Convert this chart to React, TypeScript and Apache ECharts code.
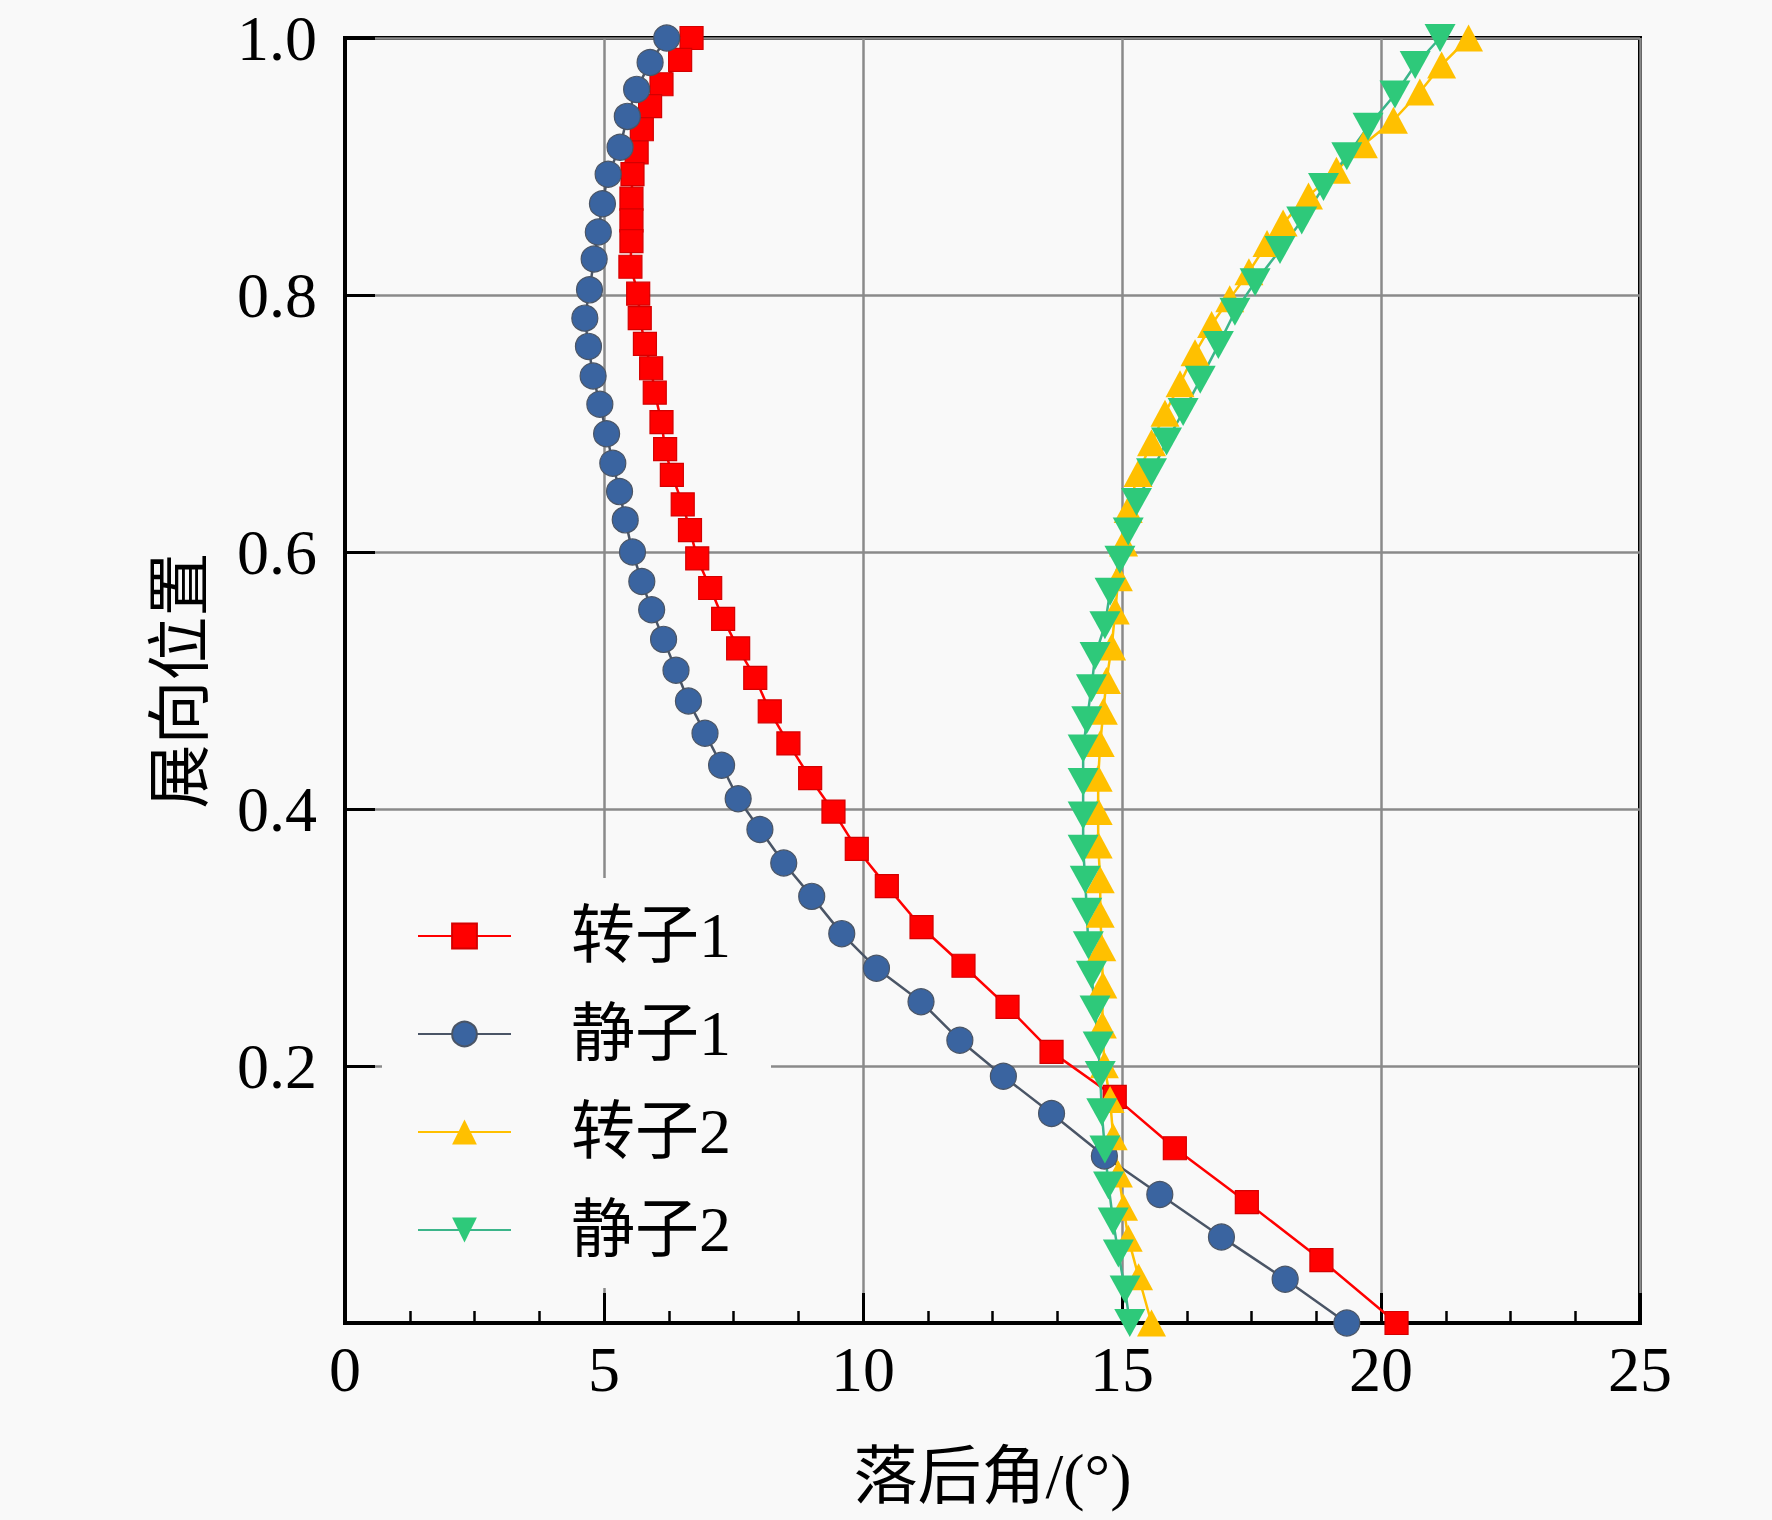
import React, { useEffect, useRef } from "react";
import * as echarts from "echarts";

// ---- Data ----
const seriesNames = ["转子1", "静子1", "转子2", "静子2"];

const xTicks = [0, 5, 10, 15, 20, 25];
const yTicks = [0, 0.2, 0.4, 0.6, 0.8, 1.0];
const yTickLabels = ["", "0.2", "0.4", "0.6", "0.8", "1.0"];

const xAxisTitle = "落后角/(°)";
const yAxisTitle = "展向位置";

// 转子1 (rotor 1)
const rotor1Angle = [6.69, 6.47, 6.11, 5.89, 5.73, 5.63, 5.55, 5.53, 5.53, 5.53, 5.51, 5.66, 5.69, 5.79, 5.91, 5.98, 6.11, 6.18, 6.31, 6.52, 6.66, 6.8, 7.05, 7.3, 7.59, 7.92, 8.2, 8.56, 8.98, 9.43, 9.88, 10.46, 11.13, 11.94, 12.79, 13.64, 14.86, 16.02, 17.41, 18.85, 20.3];
const rotor1Span = [1.0, 0.983, 0.964, 0.947, 0.929, 0.911, 0.894, 0.875, 0.858, 0.842, 0.822, 0.801, 0.782, 0.762, 0.743, 0.724, 0.701, 0.68, 0.66, 0.637, 0.617, 0.595, 0.572, 0.548, 0.525, 0.502, 0.476, 0.451, 0.424, 0.398, 0.369, 0.34, 0.308, 0.278, 0.246, 0.211, 0.176, 0.136, 0.094, 0.049, 0.0];

// 静子1 (stator 1)
const stator1Angle = [6.21, 5.89, 5.63, 5.45, 5.31, 5.08, 4.97, 4.89, 4.81, 4.72, 4.63, 4.7, 4.79, 4.92, 5.05, 5.17, 5.3, 5.41, 5.55, 5.73, 5.92, 6.15, 6.39, 6.63, 6.95, 7.27, 7.59, 8.01, 8.47, 9.01, 9.59, 10.26, 11.12, 11.87, 12.71, 13.64, 14.66, 15.73, 16.92, 18.15, 19.34];
const stator1Span = [1.0, 0.981, 0.96, 0.939, 0.915, 0.894, 0.871, 0.849, 0.828, 0.804, 0.782, 0.76, 0.737, 0.715, 0.692, 0.669, 0.647, 0.625, 0.6, 0.577, 0.555, 0.532, 0.508, 0.484, 0.459, 0.434, 0.408, 0.384, 0.358, 0.332, 0.303, 0.276, 0.25, 0.22, 0.192, 0.163, 0.13, 0.1, 0.067, 0.034, 0.0];

// 转子2 (rotor 2)
const rotor2Angle = [21.69, 21.17, 20.75, 20.24, 19.66, 19.14, 18.6, 18.11, 17.8, 17.45, 17.08, 16.73, 16.41, 16.12, 15.83, 15.57, 15.31, 15.12, 15.03, 14.93, 14.87, 14.8, 14.7, 14.64, 14.58, 14.54, 14.54, 14.54, 14.58, 14.58, 14.61, 14.63, 14.62, 14.66, 14.77, 14.83, 14.93, 15.03, 15.12, 15.32, 15.57];
const rotor2Span = [1.0, 0.979, 0.958, 0.936, 0.917, 0.897, 0.877, 0.856, 0.84, 0.818, 0.797, 0.777, 0.755, 0.731, 0.708, 0.685, 0.661, 0.633, 0.607, 0.58, 0.554, 0.526, 0.5, 0.476, 0.451, 0.424, 0.398, 0.372, 0.345, 0.318, 0.292, 0.263, 0.232, 0.201, 0.174, 0.145, 0.116, 0.09, 0.066, 0.036, 0.0];

// 静子2 (stator 2)
const stator2Angle = [21.14, 20.66, 20.27, 19.75, 19.34, 18.89, 18.47, 18.05, 17.57, 17.18, 16.86, 16.51, 16.18, 15.86, 15.57, 15.28, 15.12, 14.96, 14.77, 14.67, 14.48, 14.41, 14.32, 14.25, 14.25, 14.25, 14.25, 14.29, 14.32, 14.35, 14.41, 14.48, 14.54, 14.58, 14.61, 14.67, 14.74, 14.83, 14.93, 15.06, 15.15];
const stator2Span = [1.0, 0.979, 0.956, 0.931, 0.908, 0.884, 0.858, 0.835, 0.81, 0.787, 0.761, 0.734, 0.709, 0.686, 0.662, 0.639, 0.616, 0.594, 0.569, 0.543, 0.519, 0.494, 0.469, 0.447, 0.421, 0.395, 0.369, 0.345, 0.32, 0.294, 0.271, 0.244, 0.216, 0.193, 0.164, 0.135, 0.107, 0.079, 0.054, 0.026, 0.0];

const pair = (xs: number[], ys: number[]) => xs.map((x, i) => [x, ys[i]]);

const FONT = "'Liberation Serif', 'Times New Roman', 'Noto Sans CJK SC', serif";
const BG = "#f9f9f9";

export default function App() {
  const ref = useRef<HTMLDivElement>(null);

  useEffect(() => {
    if (!ref.current) return;
    const chart = echarts.init(ref.current, undefined, { renderer: "svg" });

    const lineSeries = (
      name: string,
      data: number[][],
      symbol: string,
      symbolSize: number | number[],
      fill: string,
      lineColor: string,
      rotate = 0,
      border = "transparent"
    ) => ({
      name,
      type: "line",
      data,
      symbol,
      symbolSize,
      symbolRotate: rotate,
      showAllSymbol: true,
      lineStyle: { color: lineColor, width: 2.5 },
      itemStyle: { color: fill, borderColor: border, borderWidth: border === "transparent" ? 0 : 1.2 },
      emphasis: { disabled: true },
    });

    chart.setOption({
      animation: false,
      backgroundColor: BG,
      grid: {
        left: 345,
        right: 132,
        top: 38,
        bottom: 197,
        show: true,
        borderColor: "#000",
        borderWidth: 4,
        backgroundColor: "transparent",
      },
      legend: {
        orient: "vertical",
        left: 382,
        top: 878,
        padding: [26, 40, 26, 35],
        backgroundColor: BG,
        itemGap: 34,
        itemWidth: 93,
        itemHeight: 31,
        selectedMode: false,
        textStyle: { fontFamily: FONT, fontSize: 64, color: "#000", padding: [0, 0, 0, 55] },
        data: seriesNames,
      },
      xAxis: {
        type: "value",
        min: xTicks[0],
        max: xTicks[xTicks.length - 1],
        interval: xTicks[1] - xTicks[0],
        name: xAxisTitle,
        nameLocation: "middle",
        nameGap: 121,
        nameTextStyle: { fontFamily: FONT, fontSize: 64, color: "#000" },
        axisLine: { show: true, lineStyle: { color: "#000", width: 4 } },
        axisTick: { show: true, inside: true, length: 30, lineStyle: { color: "#000", width: 3 } },
        minorTick: { show: true, splitNumber: 4, length: 12, lineStyle: { color: "#000", width: 2.5 } },
        axisLabel: { fontFamily: FONT, fontSize: 64, color: "#000", margin: 14 },
        splitLine: { show: true, lineStyle: { color: "#8a8a8a", width: 2.5 } },
      },
      yAxis: {
        type: "value",
        min: yTicks[0],
        max: yTicks[yTicks.length - 1],
        interval: 0.2,
        name: yAxisTitle,
        nameLocation: "middle",
        nameGap: 133,
        nameRotate: 90,
        nameTextStyle: { fontFamily: FONT, fontSize: 64, color: "#000" },
        axisLine: { show: true, lineStyle: { color: "#000", width: 4 } },
        axisTick: { show: true, inside: true, length: 30, lineStyle: { color: "#000", width: 3 } },
        axisLabel: {
          fontFamily: FONT,
          fontSize: 64,
          color: "#000",
          margin: 28,
          formatter: (v: number) => {
            const idx = yTicks.findIndex((t) => Math.abs(t - v) < 1e-6);
            return idx >= 0 ? yTickLabels[idx] : "";
          },
        },
        splitLine: { show: true, lineStyle: { color: "#8a8a8a", width: 2.5 } },
      },
      series: [
        lineSeries(seriesNames[0], pair(rotor1Angle, rotor1Span), "rect", 23, "#ff0000", "#ff0000", 0, "#d40000"),
        lineSeries(seriesNames[1], pair(stator1Angle, stator1Span), "circle", 26, "#3a64a0", "#4a5566", 0, "#4a5566"),
        lineSeries(seriesNames[2], pair(rotor2Angle, rotor2Span), "triangle", [29, 27], "#ffc000", "#ffc000"),
        lineSeries(seriesNames[3], pair(stator2Angle, stator2Span), "triangle", [31, 28], "#2ec97a", "#3bb58a", 180),
      ],
    });

    return () => chart.dispose();
  }, []);

  return (
    <div
      ref={ref}
      style={{ position: "fixed", left: 0, top: 0, width: 1772, height: 1520, background: BG }}
    />
  );
}
